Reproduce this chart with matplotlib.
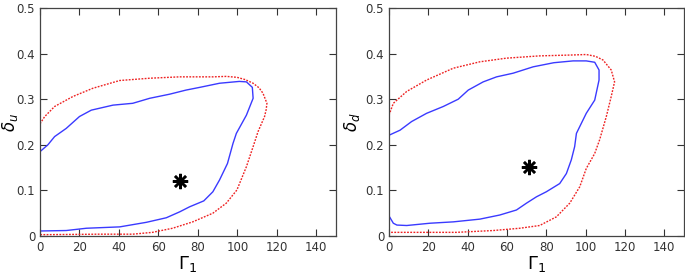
import matplotlib as mpl

mpl.use("Agg")

import matplotlib.pyplot as plt
import numpy as np

# left panel: delta_u contours
u_inner_x = [0, 0, 4, 7.4, 13.3, 20, 26, 37, 47, 55.6, 65.7, 74, 81, 91, 101, 104.6,
             107.6, 108, 104.6, 99.5, 97.8, 95, 91, 87.6, 83, 75.8, 70.8, 64, 53.9,
             40.4, 23.5, 13.3, 0, 0]
u_inner_y = [0.011, 0.185, 0.2, 0.218, 0.236, 0.262, 0.276, 0.287, 0.291, 0.302, 0.311,
             0.320, 0.326, 0.335, 0.339, 0.338, 0.326, 0.302, 0.265, 0.225, 0.203, 0.159,
             0.123, 0.097, 0.077, 0.064, 0.053, 0.040, 0.030, 0.020, 0.017, 0.012, 0.011,
             0.011]
u_outer_x = [0, 2.4, 7.4, 16.7, 26.8, 40.4, 55.6, 70.8, 87.6, 94.4, 99.8, 104, 108, 111,
             113, 115, 114.6, 113.8, 110.5, 108, 104.6, 99.8, 94.4, 87.6, 77.4, 67.2, 57,
             47, 30, 5, 0]
u_outer_y = [0.246, 0.262, 0.284, 0.306, 0.324, 0.341, 0.346, 0.349, 0.349, 0.350, 0.348,
             0.343, 0.335, 0.325, 0.313, 0.291, 0.277, 0.262, 0.229, 0.196, 0.152, 0.101,
             0.072, 0.050, 0.031, 0.017, 0.008, 0.004, 0.004, 0.003, 0.003]
u_best = (71, 0.121)

# right panel: delta_d contours
d_inner_x = [0, 5.6, 11.5, 19.1, 27.6, 35.2, 40.3, 47.9, 54.7, 63.1, 73.3, 83.8, 93.6,
             100.3, 104.6, 106.8, 106.8, 104.6, 100.3, 97, 95.3, 94.4, 92.7, 90.2, 86.8,
             80, 75, 69.9, 64.8, 56.3, 46.2, 32.7, 20.8, 9, 4, 2.2, 0]
d_inner_y = [0.221, 0.232, 0.251, 0.269, 0.284, 0.300, 0.320, 0.338, 0.349, 0.357, 0.371,
             0.380, 0.384, 0.384, 0.381, 0.364, 0.342, 0.298, 0.269, 0.240, 0.225, 0.196,
             0.167, 0.137, 0.115, 0.097, 0.086, 0.072, 0.057, 0.046, 0.037, 0.031, 0.028,
             0.023, 0.024, 0.028, 0.044]
d_outer_x = [0, 2.2, 9, 19.1, 32.7, 46.2, 59.7, 76.6, 93.6, 100.3, 105, 108.8, 113, 114.7,
             113, 110.5, 107.1, 104.6, 100.3, 97, 91.9, 85.1, 76.6, 66.5, 53, 34.3, 9, 0]
d_outer_y = [0.265, 0.291, 0.317, 0.342, 0.368, 0.382, 0.390, 0.395, 0.397, 0.398, 0.394,
             0.386, 0.364, 0.338, 0.306, 0.262, 0.211, 0.181, 0.148, 0.108, 0.072, 0.042,
             0.023, 0.017, 0.012, 0.008, 0.008, 0.008]
d_best = (71, 0.151)

x_ticks = [0, 20, 40, 60, 80, 100, 120, 140]
y_ticks = [0, 0.1, 0.2, 0.3, 0.4, 0.5]
y_tick_labels = ["0", "0.1", "0.2", "0.3", "0.4", "0.5"]

BLUE = "#3a3aff"
RED = "#ee2222"


def draw_panel(axis, inner_x, inner_y, outer_x, outer_y, best, ylabel, label_x):
    axis.plot(outer_x, outer_y, color=RED, lw=1.0, ls=(0, (1.3, 1.0)))
    axis.plot(inner_x, inner_y, color=BLUE, lw=1.0)
    axis.plot(*best, marker=(8, 2, 0), ms=11, mew=1.8, color="black")
    axis.plot(*best, marker="o", ms=4, color="black")
    axis.set_xlim(0, 150)
    axis.set_ylim(0, 0.5)
    axis.set_xticks(x_ticks)
    axis.set_yticks(y_ticks)
    axis.set_yticklabels(y_tick_labels)
    axis.tick_params(direction="in", top=True, right=True, length=5, width=0.8,
                     labelsize=8.5, colors="#333333", pad=3.5)
    for spine in axis.spines.values():
        spine.set_color("#444444")
        spine.set_linewidth(0.9)
    axis.set_xlabel(r"$\Gamma_1$", fontsize=13, labelpad=0)
    axis.set_ylabel(ylabel, fontsize=12)
    axis.yaxis.set_label_coords(label_x, 0.5)


fig = plt.figure(figsize=(6.85, 2.75), dpi=100)
ax_left = fig.add_axes([40 / 685, 39 / 275, 296 / 685, 228 / 275])
ax_right = fig.add_axes([389 / 685, 39 / 275, 295 / 685, 228 / 275])

draw_panel(ax_left, u_inner_x, u_inner_y, u_outer_x, u_outer_y, u_best,
           r"$\delta_u$", -0.068)
draw_panel(ax_right, d_inner_x, d_inner_y, d_outer_x, d_outer_y, d_best,
           r"$\delta_d$", -0.092)

fig.savefig("out.png", dpi=100)
plt.close(fig)
